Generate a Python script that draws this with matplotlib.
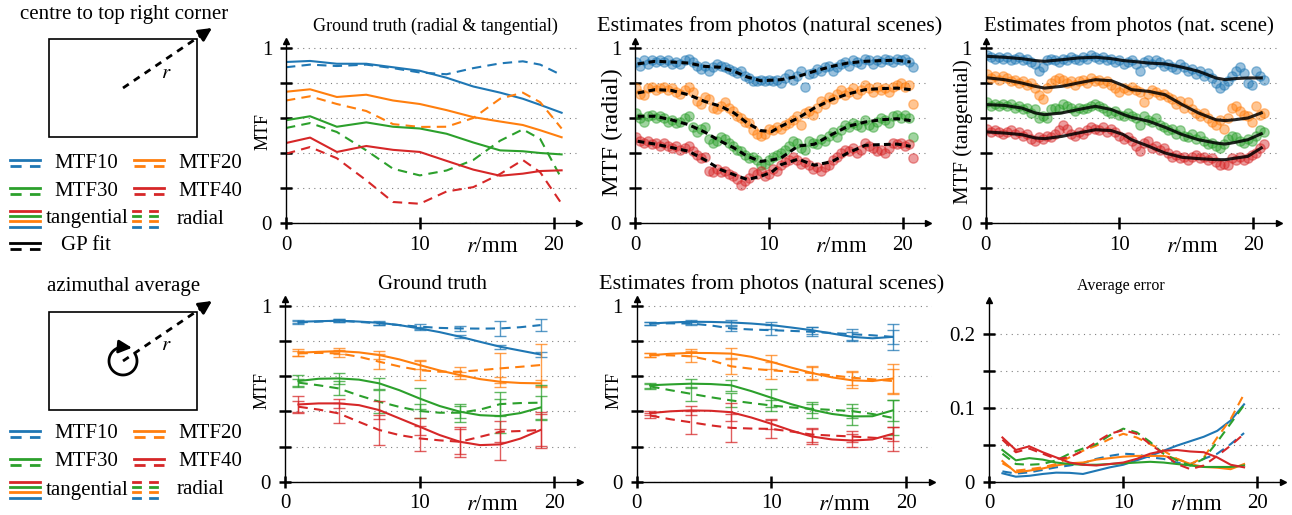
import numpy as np
import matplotlib
matplotlib.use('Agg')
import matplotlib.pyplot as plt
from matplotlib.patches import Rectangle

plt.rcParams['font.family'] = ['Liberation Serif', 'DejaVu Serif']
plt.rcParams['mathtext.fontset'] = 'stix'
plt.rcParams['font.size'] = 13

colors = ['#1f77b4', '#ff7f0e', '#2ca02c', '#d62728']
legend_names = ['MTF10', 'MTF20', 'MTF30', 'MTF40']

# ground truth, centre to top right corner
r_gt = [0, 1.8, 3.8, 6, 8, 10, 12, 14, 16, 17.7, 19, 20.6]
gt_tan10 = [0.92, 0.926, 0.91, 0.91, 0.89, 0.87, 0.83, 0.78, 0.745, 0.71, 0.675, 0.63]
gt_rad10 = [0.89, 0.905, 0.897, 0.905, 0.885, 0.86, 0.85, 0.885, 0.912, 0.924, 0.905, 0.845]
gt_tan20 = [0.75, 0.764, 0.72, 0.733, 0.70, 0.68, 0.645, 0.605, 0.58, 0.56, 0.53, 0.49]
gt_rad20 = [0.70, 0.724, 0.68, 0.64, 0.565, 0.549, 0.55, 0.60, 0.71, 0.745, 0.69, 0.54]
gt_tan30 = [0.587, 0.61, 0.55, 0.575, 0.55, 0.54, 0.51, 0.46, 0.415, 0.41, 0.40, 0.392]
gt_rad30 = [0.543, 0.571, 0.52, 0.415, 0.31, 0.272, 0.30, 0.36, 0.47, 0.535, 0.48, 0.253]
gt_tan40 = [0.457, 0.488, 0.406, 0.44, 0.418, 0.406, 0.355, 0.305, 0.27, 0.282, 0.297, 0.301]
gt_rad40 = [0.396, 0.434, 0.37, 0.244, 0.12, 0.11, 0.18, 0.205, 0.28, 0.36, 0.29, 0.11]

# estimates from photos: sample positions and measured values
r_pts = np.linspace(0.1, 20.8, 70)
est_rad10 = [0.92, 0.90, 0.93, 0.91, 0.93, 0.92, 0.93, 0.92, 0.93, 0.91,
             0.92, 0.91, 0.93, 0.94, 0.92, 0.90, 0.88, 0.90, 0.87, 0.89,
             0.91, 0.90, 0.89, 0.88, 0.87, 0.86, 0.87, 0.84, 0.83, 0.81,
             0.81, 0.82, 0.81, 0.82, 0.81, 0.82, 0.80, 0.83, 0.85, 0.82,
             0.84, 0.87, 0.78, 0.85, 0.86, 0.88, 0.87, 0.89, 0.90, 0.87,
             0.89, 0.91, 0.92, 0.90, 0.93, 0.92, 0.91, 0.94, 0.93, 0.91,
             0.93, 0.92, 0.94, 0.93, 0.92, 0.94, 0.93, 0.94, 0.92, 0.89]
est_rad20 = [0.77, 0.74, 0.73, 0.77, 0.78, 0.76, 0.77, 0.78, 0.76, 0.77,
             0.75, 0.74, 0.76, 0.78, 0.75, 0.70, 0.68, 0.72, 0.71, 0.66,
             0.65, 0.67, 0.69, 0.66, 0.64, 0.61, 0.60, 0.58, 0.57, 0.53,
             0.51, 0.50, 0.51, 0.54, 0.53, 0.55, 0.54, 0.56, 0.57, 0.59,
             0.61, 0.56, 0.63, 0.64, 0.62, 0.66, 0.70, 0.68, 0.72, 0.71,
             0.74, 0.76, 0.73, 0.75, 0.77, 0.74, 0.76, 0.79, 0.77, 0.75,
             0.78, 0.76, 0.77, 0.75, 0.78, 0.79, 0.80, 0.78, 0.79, 0.68]
est_rad30 = [0.63, 0.60, 0.58, 0.61, 0.62, 0.60, 0.61, 0.60, 0.58, 0.59,
             0.57, 0.58, 0.60, 0.61, 0.55, 0.52, 0.54, 0.55, 0.48, 0.46,
             0.47, 0.49, 0.48, 0.46, 0.44, 0.42, 0.41, 0.39, 0.37, 0.38,
             0.36, 0.33, 0.34, 0.36, 0.38, 0.39, 0.40, 0.42, 0.44, 0.47,
             0.46, 0.43, 0.42, 0.47, 0.46, 0.45, 0.48, 0.47, 0.50, 0.52,
             0.49, 0.53, 0.56, 0.55, 0.57, 0.56, 0.55, 0.59, 0.56, 0.55,
             0.58, 0.60, 0.59, 0.57, 0.61, 0.62, 0.60, 0.62, 0.60, 0.49]
est_rad40 = [0.49, 0.47, 0.46, 0.47, 0.45, 0.46, 0.44, 0.46, 0.44, 0.43,
             0.44, 0.42, 0.43, 0.44, 0.41, 0.39, 0.37, 0.38, 0.30, 0.29,
             0.31, 0.29, 0.30, 0.28, 0.27, 0.25, 0.22, 0.24, 0.26, 0.29,
             0.28, 0.30, 0.27, 0.28, 0.31, 0.30, 0.33, 0.35, 0.36, 0.38,
             0.36, 0.34, 0.35, 0.33, 0.31, 0.32, 0.30, 0.32, 0.33, 0.36,
             0.38, 0.40, 0.42, 0.41, 0.43, 0.40, 0.42, 0.46, 0.44, 0.43,
             0.41, 0.42, 0.40, 0.43, 0.46, 0.45, 0.46, 0.44, 0.45, 0.37]
est_tan10 = [0.96, 0.95, 0.94, 0.95, 0.94, 0.95, 0.93, 0.94, 0.95, 0.93,
             0.94, 0.92, 0.91, 0.87, 0.89, 0.93, 0.94, 0.93, 0.92, 0.94,
             0.93, 0.95, 0.94, 0.93, 0.95, 0.94, 0.96, 0.95, 0.94, 0.95,
             0.93, 0.94, 0.92, 0.93, 0.91, 0.92, 0.93, 0.91, 0.87, 0.92,
             0.93, 0.91, 0.93, 0.92, 0.90, 0.91, 0.89, 0.88, 0.91, 0.89,
             0.87, 0.88, 0.85, 0.87, 0.84, 0.86, 0.83, 0.80, 0.77, 0.79,
             0.81, 0.84, 0.87, 0.89, 0.86, 0.80, 0.79, 0.87, 0.84, 0.82]
est_tan20 = [0.85, 0.83, 0.84, 0.82, 0.84, 0.83, 0.81, 0.82, 0.80, 0.81,
             0.79, 0.80, 0.77, 0.73, 0.71, 0.77, 0.80, 0.82, 0.83, 0.82,
             0.80, 0.81, 0.79, 0.81, 0.82, 0.80, 0.83, 0.81, 0.82, 0.80,
             0.81, 0.79, 0.77, 0.75, 0.77, 0.76, 0.78, 0.76, 0.75, 0.69,
             0.74, 0.76, 0.75, 0.73, 0.74, 0.72, 0.71, 0.68, 0.70, 0.66,
             0.69, 0.65, 0.63, 0.61, 0.63, 0.60, 0.58, 0.56, 0.59, 0.54,
             0.60, 0.66, 0.67, 0.64, 0.62, 0.61, 0.58, 0.67, 0.62, 0.63]
est_tan30 = [0.69, 0.67, 0.68, 0.67, 0.68, 0.67, 0.68, 0.66, 0.67, 0.65,
             0.66, 0.63, 0.65, 0.60, 0.61, 0.60, 0.65, 0.66, 0.65, 0.68,
             0.67, 0.66, 0.64, 0.66, 0.65, 0.66, 0.67, 0.68, 0.67, 0.66,
             0.64, 0.63, 0.64, 0.62, 0.61, 0.63, 0.61, 0.60, 0.56, 0.61,
             0.59, 0.58, 0.60, 0.56, 0.55, 0.53, 0.54, 0.51, 0.53, 0.50,
             0.49, 0.51, 0.48, 0.50, 0.47, 0.45, 0.46, 0.44, 0.43, 0.45,
             0.48, 0.50, 0.49, 0.47, 0.46, 0.48, 0.47, 0.50, 0.53, 0.52]
est_tan40 = [0.54, 0.52, 0.53, 0.52, 0.51, 0.52, 0.53, 0.51, 0.52, 0.50,
             0.51, 0.48, 0.47, 0.49, 0.48, 0.50, 0.49, 0.51, 0.53, 0.56,
             0.54, 0.51, 0.50, 0.52, 0.51, 0.53, 0.55, 0.54, 0.53, 0.55,
             0.52, 0.54, 0.52, 0.50, 0.48, 0.49, 0.47, 0.44, 0.41, 0.46,
             0.47, 0.43, 0.44, 0.42, 0.43, 0.40, 0.38, 0.39, 0.37, 0.38,
             0.36, 0.38, 0.39, 0.37, 0.38, 0.36, 0.37, 0.35, 0.33, 0.34,
             0.33, 0.37, 0.36, 0.38, 0.36, 0.37, 0.39, 0.40, 0.43, 0.45]

# GP fits
r_fit_rad = [0.2, 1.5, 2.7, 4.0, 5.2, 6.4, 7.4, 8.4, 9.4, 10.2, 10.9, 12.2, 13.4, 14.7, 15.9, 17.2, 18.4, 19.6, 20.6]
fit_rad10 = [0.909, 0.924, 0.92, 0.914, 0.895, 0.89, 0.867, 0.834, 0.813, 0.816, 0.819, 0.838, 0.867, 0.895, 0.914, 0.924, 0.928, 0.93, 0.92]
fit_rad20 = [0.743, 0.762, 0.758, 0.733, 0.695, 0.667, 0.629, 0.571, 0.528, 0.522, 0.552, 0.6, 0.657, 0.705, 0.737, 0.762, 0.768, 0.771, 0.762]
fit_rad30 = [0.61, 0.61, 0.59, 0.562, 0.52, 0.467, 0.429, 0.381, 0.352, 0.36, 0.371, 0.44, 0.45, 0.505, 0.552, 0.577, 0.59, 0.596, 0.585]
fit_rad40 = [0.467, 0.451, 0.432, 0.41, 0.362, 0.305, 0.276, 0.248, 0.267, 0.29, 0.333, 0.365, 0.33, 0.35, 0.40, 0.444, 0.448, 0.451, 0.438]
r_fit_tan = [0.2, 1.4, 2.7, 3.7, 4.4, 5.7, 6.9, 8.2, 9.4, 10.3, 10.9, 12.2, 13.4, 14.7, 15.9, 17.2, 17.9, 18.6, 19.6, 20.6]
fit_tan10 = [0.952, 0.947, 0.939, 0.928, 0.924, 0.933, 0.943, 0.947, 0.939, 0.928, 0.924, 0.914, 0.909, 0.89, 0.867, 0.829, 0.819, 0.825, 0.829, 0.829]
fit_tan20 = [0.829, 0.819, 0.8, 0.781, 0.771, 0.781, 0.8, 0.819, 0.813, 0.785, 0.762, 0.752, 0.733, 0.676, 0.629, 0.59, 0.585, 0.59, 0.60, 0.629]
fit_tan30 = [0.676, 0.672, 0.657, 0.629, 0.619, 0.629, 0.648, 0.667, 0.648, 0.62, 0.604, 0.581, 0.547, 0.505, 0.476, 0.457, 0.451, 0.46, 0.476, 0.51]
fit_tan40 = [0.52, 0.514, 0.505, 0.486, 0.482, 0.495, 0.514, 0.533, 0.528, 0.505, 0.476, 0.438, 0.4, 0.375, 0.368, 0.362, 0.362, 0.37, 0.381, 0.429]

# azimuthal averages
r_az = [1, 2.5, 4, 5.5, 7, 8.5, 10, 11.5, 13, 14.5, 16, 17.5, 19]
az_gt_tan10 = [0.909, 0.912, 0.915, 0.91, 0.903, 0.89, 0.871, 0.85, 0.824, 0.795, 0.767, 0.745, 0.723]
az_gt_rad10 = [0.905, 0.91, 0.915, 0.908, 0.9, 0.89, 0.881, 0.874, 0.871, 0.87, 0.871, 0.878, 0.89]
az_gt_tan20 = [0.733, 0.738, 0.742, 0.735, 0.72, 0.695, 0.663, 0.632, 0.606, 0.583, 0.568, 0.561, 0.559]
az_gt_rad20 = [0.729, 0.732, 0.729, 0.71, 0.682, 0.655, 0.634, 0.625, 0.625, 0.634, 0.644, 0.653, 0.663]
az_gt_tan30 = [0.572, 0.585, 0.587, 0.58, 0.559, 0.52, 0.473, 0.43, 0.398, 0.378, 0.373, 0.39, 0.422]
az_gt_rad30 = [0.563, 0.548, 0.53, 0.49, 0.455, 0.425, 0.402, 0.392, 0.392, 0.41, 0.441, 0.447, 0.449]
az_gt_tan40 = [0.439, 0.445, 0.445, 0.435, 0.407, 0.36, 0.313, 0.265, 0.227, 0.208, 0.212, 0.245, 0.294]
az_gt_rad40 = [0.426, 0.41, 0.388, 0.34, 0.294, 0.265, 0.246, 0.235, 0.227, 0.255, 0.284, 0.288, 0.294]

az_est_tan10 = [0.899, 0.905, 0.909, 0.908, 0.905, 0.899, 0.89, 0.876, 0.861, 0.842, 0.823, 0.815, 0.823]
az_est_rad10 = [0.899, 0.9, 0.899, 0.888, 0.871, 0.865, 0.861, 0.857, 0.852, 0.845, 0.838, 0.832, 0.823]
az_est_tan20 = [0.719, 0.727, 0.732, 0.731, 0.728, 0.71, 0.681, 0.648, 0.618, 0.593, 0.576, 0.572, 0.586]
az_est_rad20 = [0.719, 0.718, 0.713, 0.69, 0.656, 0.642, 0.633, 0.625, 0.618, 0.604, 0.591, 0.582, 0.572]
az_est_tan30 = [0.548, 0.553, 0.557, 0.555, 0.548, 0.515, 0.477, 0.44, 0.409, 0.385, 0.371, 0.372, 0.405]
az_est_rad30 = [0.542, 0.52, 0.5, 0.48, 0.462, 0.447, 0.433, 0.422, 0.414, 0.408, 0.401, 0.385, 0.363]
az_est_tan40 = [0.39, 0.4, 0.405, 0.403, 0.395, 0.365, 0.329, 0.29, 0.257, 0.24, 0.234, 0.24, 0.272]
az_est_rad40 = [0.376, 0.355, 0.338, 0.32, 0.306, 0.302, 0.3, 0.285, 0.268, 0.262, 0.257, 0.25, 0.243]

# error bar half widths at r = 1, 4, ..., 19
r_err = [1, 4, 7, 10, 13, 16, 19]
err_gt_tan10 = [0.008, 0.008, 0.01, 0.01, 0.01, 0.012, 0.015]
err_gt_rad10 = [0.008, 0.008, 0.01, 0.015, 0.012, 0.045, 0.032]
err_gt_tan20 = [0.02, 0.015, 0.02, 0.025, 0.02, 0.027, 0.02]
err_gt_rad20 = [0.015, 0.02, 0.043, 0.055, 0.025, 0.085, 0.12]
err_gt_tan30 = [0.035, 0.03, 0.03, 0.057, 0.035, 0.095, 0.065]
err_gt_rad30 = [0.02, 0.04, 0.065, 0.04, 0.05, 0.07, 0.1]
err_gt_tan40 = [0.05, 0.025, 0.05, 0.05, 0.085, 0.09, 0.1]
err_gt_rad40 = [0.03, 0.057, 0.085, 0.07, 0.07, 0.06, 0.09]

err_est_tan10 = [0.008, 0.01, 0.012, 0.02, 0.02, 0.025, 0.04]
err_est_rad10 = [0.008, 0.01, 0.012, 0.03, 0.025, 0.03, 0.075]
err_est_tan20 = [0.012, 0.02, 0.03, 0.04, 0.035, 0.045, 0.085]
err_est_rad20 = [0.01, 0.03, 0.045, 0.05, 0.04, 0.04, 0.07]
err_est_tan30 = [0.015, 0.025, 0.03, 0.05, 0.045, 0.05, 0.06]
err_est_rad30 = [0.015, 0.04, 0.04, 0.03, 0.025, 0.04, 0.1]
err_est_tan40 = [0.012, 0.025, 0.05, 0.03, 0.04, 0.035, 0.04]
err_est_rad40 = [0.012, 0.065, 0.08, 0.05, 0.04, 0.03, 0.07]

# average error
r_avg = list(range(1, 20))
avg_tan10 = [0.0114, 0.0068, 0.008, 0.0105, 0.0123, 0.012, 0.0105, 0.015, 0.0195, 0.023, 0.029, 0.035, 0.042, 0.049, 0.055, 0.061, 0.069, 0.083, 0.105]
avg_rad10 = [0.014, 0.011, 0.0127, 0.016, 0.0195, 0.022, 0.025, 0.031, 0.035, 0.038, 0.037, 0.033, 0.031, 0.026, 0.024, 0.031, 0.038, 0.051, 0.066]
avg_tan20 = [0.028, 0.0127, 0.015, 0.018, 0.022, 0.025, 0.026, 0.03, 0.032, 0.034, 0.035, 0.035, 0.035, 0.031, 0.024, 0.02, 0.019, 0.017, 0.024]
avg_rad20 = [0.025, 0.015, 0.017, 0.0195, 0.024, 0.033, 0.042, 0.049, 0.058, 0.065, 0.06, 0.051, 0.042, 0.031, 0.024, 0.033, 0.06, 0.085, 0.119]
avg_tan30 = [0.043, 0.029, 0.032, 0.03, 0.026, 0.024, 0.023, 0.023, 0.024, 0.025, 0.026, 0.027, 0.026, 0.024, 0.022, 0.02, 0.02, 0.02, 0.022]
avg_rad30 = [0.038, 0.024, 0.023, 0.024, 0.029, 0.038, 0.045, 0.051, 0.063, 0.072, 0.067, 0.054, 0.038, 0.029, 0.022, 0.031, 0.054, 0.079, 0.104]
avg_tan40 = [0.06, 0.043, 0.048, 0.04, 0.033, 0.026, 0.023, 0.022, 0.024, 0.026, 0.031, 0.038, 0.042, 0.043, 0.041, 0.04, 0.033, 0.023, 0.0195]
avg_rad40 = [0.057, 0.04, 0.045, 0.038, 0.031, 0.033, 0.042, 0.054, 0.065, 0.07, 0.065, 0.051, 0.038, 0.024, 0.017, 0.022, 0.035, 0.049, 0.065]

W, H = 1292, 515
fig = plt.figure(figsize=(W / 100, H / 100), dpi=100)

DASH = (4.5, 3)
LW = 1.5


def add_panel(left, top, width, height):
    return fig.add_axes([left / W, 1 - (top + height) / H, width / W, height / H])


def style(ax, ytop, yticks, ylabels, ylabel=None, ylabel_fs=13, title=None, title_x=0.5, title_fs=13):
    ax.set_xlim(0, 21.9)
    ax.set_ylim(0, ytop)
    for s in ['top', 'right']:
        ax.spines[s].set_visible(False)
    for s in ['left', 'bottom']:
        ax.spines[s].set_linewidth(1.0)
    ax.set_yticks(yticks)
    ax.set_yticklabels(ylabels)
    ax.set_xticks([0, 10, 15.4, 20])
    ax.set_xticklabels(['0', '10', '$r$/mm', '20'])
    ax.tick_params(direction='inout', length=8, width=1.8, labelsize=15)
    ax.tick_params(axis='y', pad=6)
    ax.tick_params(axis='x', pad=5)
    ax.xaxis.get_major_ticks()[2].tick1line.set_visible(False)
    ax.get_xticklabels()[2].set_fontsize(16.5)
    ax.grid(axis='y', ls=(0, (1, 4)), color='0.5', lw=0.8)
    ax.set_axisbelow(True)
    ax.plot(1, 0, '>k', transform=ax.transAxes, clip_on=False, ms=5)
    ax.plot(0, 1, '^k', transform=ax.transAxes, clip_on=False, ms=5)
    if ylabel:
        ax.set_ylabel(ylabel, va='center', fontsize=ylabel_fs)
        ax.yaxis.set_label_coords(-0.078, 0.5)
    if title:
        ax.set_title(title, x=title_x, pad=7, fontsize=title_fs)


mtf_ticks = [0, 0.2, 0.4, 0.6, 0.8, 1.0]
mtf_labels = ['0', '', '', '', '', '1']

# panel 1
ax1 = add_panel(286, 41, 293, 182)
for tan, rad, c in zip([gt_tan10, gt_tan20, gt_tan30, gt_tan40],
                       [gt_rad10, gt_rad20, gt_rad30, gt_rad40], colors):
    ax1.plot(r_gt, tan, color=c, lw=LW)
    ax1.plot(r_gt, rad, color=c, lw=LW, dashes=DASH)
style(ax1, 1.04, mtf_ticks, mtf_labels, 'MTF', 13, 'Ground truth (radial & tangential)', 0.51, 13)

# panel 2
ax2 = add_panel(635, 41, 293, 182)
for est, fit, c in zip([est_rad10, est_rad20, est_rad30, est_rad40],
                       [fit_rad10, fit_rad20, fit_rad30, fit_rad40], colors):
    ax2.scatter(r_pts, est, s=45, color=c, alpha=0.45, lw=1, zorder=2)
    ax2.plot(r_fit_rad, fit, color='k', lw=2.2, dashes=(2.2, 1.4), zorder=3)
style(ax2, 1.04, mtf_ticks, mtf_labels, 'MTF (radial)', 17.5,
      'Estimates from photos (natural scenes)', 0.46, 16)

# panel 3
ax3 = add_panel(985.7, 41, 293, 182)
for est, fit, c in zip([est_tan10, est_tan20, est_tan30, est_tan40],
                       [fit_tan10, fit_tan20, fit_tan30, fit_tan40], colors):
    ax3.scatter(r_pts, est, s=45, color=c, alpha=0.45, lw=1, zorder=2)
    ax3.plot(r_fit_tan, fit, color='k', lw=2.2, alpha=0.85, zorder=3)
style(ax3, 1.04, mtf_ticks, mtf_labels, 'MTF (tangential)', 15,
      'Estimates from photos (nat. scene)', 0.49, 15)


def az_panel(ax, tans, rads, etans, erads):
    for tan, rad, et, er, c in zip(tans, rads, etans, erads, colors):
        ax.errorbar(r_err, tan[::2], yerr=et, fmt='none', ecolor=c, elinewidth=1, capsize=4, alpha=0.75)
        ax.errorbar(r_err, rad[::2], yerr=er, fmt='none', ecolor=c, elinewidth=1, capsize=4, alpha=0.75)
        ax.plot(r_az, tan, color=c, lw=LW)
        ax.plot(r_az, rad, color=c, lw=LW, dashes=DASH)


# panel 4
ax4 = add_panel(285, 298.7, 294.6, 183)
az_panel(ax4, [az_gt_tan10, az_gt_tan20, az_gt_tan30, az_gt_tan40],
         [az_gt_rad10, az_gt_rad20, az_gt_rad30, az_gt_rad40],
         [err_gt_tan10, err_gt_tan20, err_gt_tan30, err_gt_tan40],
         [err_gt_rad10, err_gt_rad20, err_gt_rad30, err_gt_rad40])
style(ax4, 1.04, mtf_ticks, mtf_labels, 'MTF', 13, 'Ground truth', 0.5, 15)

# panel 5
ax5 = add_panel(636.7, 298.7, 295, 183)
az_panel(ax5, [az_est_tan10, az_est_tan20, az_est_tan30, az_est_tan40],
         [az_est_rad10, az_est_rad20, az_est_rad30, az_est_rad40],
         [err_est_tan10, err_est_tan20, err_est_tan30, err_est_tan40],
         [err_est_rad10, err_est_rad20, err_est_rad30, err_est_rad40])
style(ax5, 1.04, mtf_ticks, mtf_labels, 'MTF', 13,
      'Estimates from photos (natural scenes)', 0.457, 16)

# panel 6
ax6 = add_panel(989, 299.7, 294, 182)
for tan, rad, c in zip([avg_tan10, avg_tan20, avg_tan30, avg_tan40],
                       [avg_rad10, avg_rad20, avg_rad30, avg_rad40], colors):
    ax6.plot(r_avg, tan, color=c, lw=LW)
    ax6.plot(r_avg, rad, color=c, lw=LW, dashes=DASH)
style(ax6, 0.247, [0, 0.05, 0.1, 0.15, 0.2], ['0', '', '0.1', '', '0.2'], None, 13,
      'Average error', 0.447, 11.5)

# left column: sketches and legends (pixel coordinates)
lx = fig.add_axes([0, 0, 1, 1], zorder=-1)
lx.set_xlim(0, W)
lx.set_ylim(H, 0)
lx.axis('off')
FS = 15
HEAD = '-|>,head_length=0.6,head_width=0.3'


def sketch(y_text, y_rect, text, circle):
    lx.text(124, y_text, text, ha='center', va='center', fontsize=FS)
    lx.add_patch(Rectangle((49, y_rect), 148, 98, fill=False, lw=1.2, ec='k'))
    cx, cy = 123, y_rect + 49
    lx.plot([cx, 203], [cy, cy - 54], color='k', lw=2, dashes=(2.5, 2.2))
    lx.annotate('', xy=(212, cy - 60), xytext=(200, cy - 52),
                arrowprops=dict(arrowstyle=HEAD, color='k', lw=2, shrinkA=0, shrinkB=0))
    lx.text(166, cy - 15, '$r$', ha='center', va='center', fontsize=FS)
    if circle:
        t = np.radians(np.linspace(90, 390, 60))
        lx.plot(cx + 14 * np.cos(t), cy - 14 * np.sin(t), color='k', lw=2)
        lx.annotate('', xy=(cx + 9, cy - 13.2), xytext=(cx, cy - 14),
                    arrowprops=dict(arrowstyle=HEAD, color='k', lw=2, shrinkA=0, shrinkB=0))


def pair(x, y, c):
    lx.plot([x, x + 30], [y - 3, y - 3], color=c, lw=2)
    lx.plot([x, x + 30], [y + 3, y + 3], color=c, lw=2, dashes=(4, 3))


def legend_block(y0, gp):
    rows = [y0, y0 + 28]
    for i, (name, c) in enumerate(zip(legend_names, colors)):
        y = rows[i // 2]
        hx = 10 if i % 2 == 0 else 134
        pair(hx, y, c)
        lx.text(hx + 76, y, name, ha='center', va='center', fontsize=FS)
    y = y0 + 56
    for k, c in enumerate(['#d62728', '#2ca02c', '#ff7f0e', '#1f77b4']):
        yy = y - 8 + k * 5.2
        lx.plot([10, 40], [yy, yy], color=c, lw=2)
        lx.plot([133, 140], [yy, yy], color=c, lw=2)
        lx.plot([150, 157], [yy, yy], color=c, lw=2)
    lx.text(87, y, 'tangential', ha='center', va='center', fontsize=FS)
    lx.text(200, y, 'radial', ha='center', va='center', fontsize=FS)
    if gp:
        y = y0 + 83
        pair(10, y, 'k')
        lx.text(86, y, 'GP fit', ha='center', va='center', fontsize=FS)


sketch(15, 39, 'centre to top right corner', False)
legend_block(163, True)
sketch(287, 312, 'azimuthal average', True)
legend_block(434, False)

plt.savefig('out.png', dpi=100)
